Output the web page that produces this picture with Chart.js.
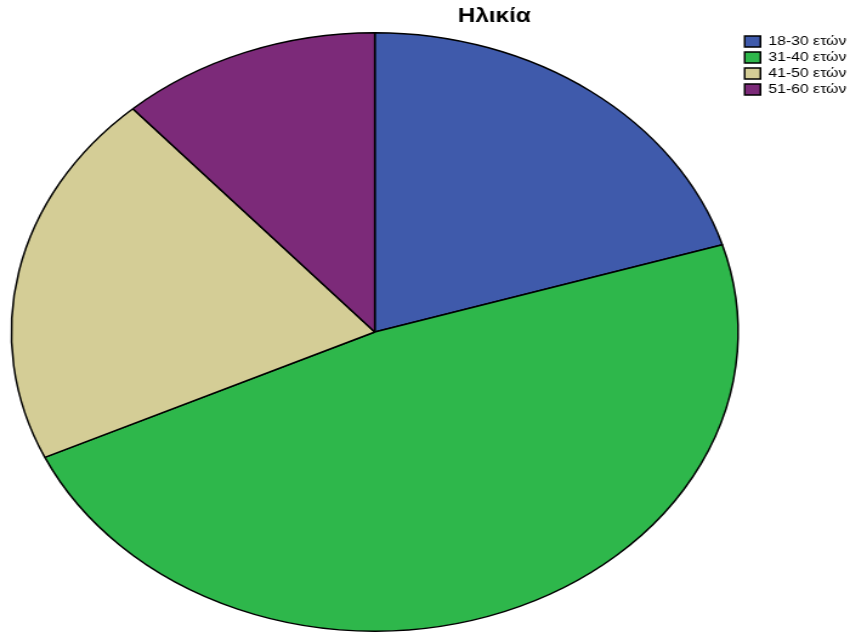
<!DOCTYPE html>
<html>
<head>
<meta charset="utf-8">
<title>Ηλικία</title>
<script src="https://cdn.jsdelivr.net/npm/chart.js@4/dist/chart.umd.min.js"></script>
<style>
  html, body { margin: 0; padding: 0; background: #fff; }
</style>
</head>
<body>
<!-- the original export is stretched sideways, so the canvas is drawn narrow and widened by its inline style -->
<canvas id="chart" width="700" height="634" style="width:850px;height:634px"></canvas>
<script>
// data
const chartTitle = 'Ηλικία';
const ageGroups = ['18-30 ετών', '31-40 ετών', '41-50 ετών', '51-60 ετών'];
const counts = [14, 33, 14, 8];
const sliceColors = ['#3f5aab', '#2eb74b', '#d4cd96', '#7c2a79'];

// title sits right of the canvas centre in the original
const titleOffsetX = 50;

const titleShift = {
    id: 'titleShift',
    afterLayout(chart) {
        chart.titleBlock.left += titleOffsetX;
        chart.titleBlock.right += titleOffsetX;
    }
};

let ctx = document.getElementById('chart');

let chart = new Chart(ctx, {
    type: 'pie',
    data: {
        labels: ageGroups,
        datasets: [{
            data: counts,
            backgroundColor: sliceColors,
            borderColor: '#000',
            borderWidth: 1.5
        }]
    },
    options: {
        responsive: false,
        animation: false,
        layout: {
            padding: { left: 7, right: -7, top: 0, bottom: 2 }
        },
        plugins: {
            title: {
                display: true,
                text: chartTitle,
                color: '#000',
                font: { family: "'Liberation Sans', Arial, sans-serif", size: 20, weight: 'bold' },
                padding: { top: 4, bottom: 4 }
            },
            legend: {
                position: 'right',
                align: 'start',
                fullSize: false,
                labels: {
                    boxWidth: 13,
                    boxHeight: 11,
                    padding: 3,
                    color: '#000',
                    font: { family: "'Liberation Sans', Arial, sans-serif", size: 13 }
                }
            },
            tooltip: { enabled: false }
        }
    },
    plugins: [titleShift]
});
</script>
</body>
</html>
